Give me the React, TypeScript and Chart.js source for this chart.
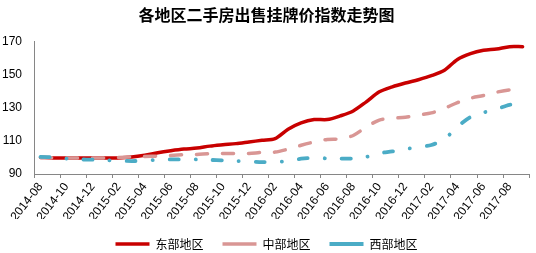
import React, { useEffect, useRef } from "react";
import { Chart, registerables } from "chart.js";

Chart.register(...registerables);

const title = "各地区二手房出售挂牌价指数走势图";

const months = [
  "2014-08", "2014-09", "2014-10", "2014-11", "2014-12", "2015-01", "2015-02", "2015-03",
  "2015-04", "2015-05", "2015-06", "2015-07", "2015-08", "2015-09", "2015-10", "2015-11",
  "2015-12", "2016-01", "2016-02", "2016-03", "2016-04", "2016-05", "2016-06", "2016-07",
  "2016-08", "2016-09", "2016-10", "2016-11", "2016-12", "2017-01", "2017-02", "2017-03",
  "2017-04", "2017-05", "2017-06", "2017-07", "2017-08", "2017-09",
];

const seriesNames = ["东部地区", "中部地区", "西部地区"];

const eastValues = [
  100, 99.7, 99.7, 99.6, 99.6, 99.7, 99.7, 100.2, 101.3, 102.8, 104, 105, 105.6, 106.8,
  107.6, 108.3, 109.3, 110.3, 111.3, 117, 120.8, 122.8, 122.8, 125, 128, 133.5, 139.5,
  142.5, 144.8, 146.8, 149.2, 152.5, 159, 162.5, 164.5, 165.3, 166.7, 166.7,
];

const centralValues = [
  100, 99.8, 99.7, 99.7, 99.7, 99.7, 100, 100.3, 100.6, 100.8, 101.2, 101.6, 101.8, 102.2,
  102.3, 102.3, 102.4, 103, 103.2, 105, 107.3, 109.3, 110.8, 111.2, 113.2, 118.3, 122.5,
  123.6, 124.2, 125.6, 126.8, 129.6, 133, 135.7, 137.3, 139.3, 140.7, 141,
];

const westValues = [
  100.3, 100, 99.3, 98.8, 98.6, 98.3, 98, 97.8, 98, 98.6, 98.8, 98.8, 98.8, 98.5, 98.2,
  97.8, 97.5, 97.2, 97.3, 97.8, 99.2, 99.8, 99.4, 99.3, 99.3, 100.3, 102.5, 103.6, 105,
  106.2, 107.5, 111, 118.5, 124.3, 127, 129, 131.7, 131.7,
];

const yMin = 90;
const yMax = 170;
const yStep = 20;

export default function App() {
  const ref = useRef<HTMLCanvasElement | null>(null);

  useEffect(() => {
    if (!ref.current) return;
    const axisColor = "#868686";
    const chart = new Chart(ref.current, {
      type: "line",
      data: {
        labels: months,
        datasets: [
          {
            label: seriesNames[0],
            data: eastValues,
            borderColor: "#C80000",
            backgroundColor: "#C80000",
            borderWidth: 3.5,
            borderCapStyle: "round",
            borderJoinStyle: "round",
            pointRadius: 0,
            tension: 0.3,
            order: 2,
          },
          {
            label: seriesNames[1],
            data: centralValues,
            borderColor: "#D99694",
            backgroundColor: "#D99694",
            borderWidth: 3.5,
            borderDash: [11, 15],
            borderCapStyle: "round",
            borderJoinStyle: "round",
            pointRadius: 0,
            tension: 0.3,
            order: 1,
          },
          {
            label: seriesNames[2],
            data: westValues,
            borderColor: "#4BACC6",
            backgroundColor: "#4BACC6",
            borderWidth: 3.8,
            borderDash: [9, 17, 0.1, 17],
            borderCapStyle: "round",
            borderJoinStyle: "round",
            pointRadius: 0,
            tension: 0.3,
            order: 0,
          },
        ],
      },
      options: {
        responsive: false,
        animation: false,
        devicePixelRatio: 1,
        layout: { padding: { left: 0, right: 3, top: 0, bottom: -7 } },
        plugins: {
          title: {
            display: true,
            text: title,
            color: "#000000",
            font: { family: "'Noto Sans CJK SC', sans-serif", size: 16, weight: "bold" },
            padding: { top: 5, bottom: 17 },
          },
          legend: {
            position: "bottom",
            labels: {
              usePointStyle: true,
              pointStyle: "line",
              pointStyleWidth: 34,
              padding: 19,
              color: "#000000",
              font: { family: "'Noto Sans CJK SC', sans-serif", size: 12 },
              sort: (a: any, b: any) => a.datasetIndex - b.datasetIndex,
            },
          },
          tooltip: { enabled: false },
        },
        scales: {
          x: {
            type: "category",
            offset: true,
            grid: {
              display: true,
              offset: true,
              drawOnChartArea: false,
              drawTicks: true,
              tickLength: 4,
              color: (ctx: any) =>
                ctx.index === undefined || ctx.index % 2 === 0 ? axisColor : "rgba(0,0,0,0)",
            },
            border: { display: true, color: axisColor, width: 1 },
            ticks: {
              autoSkip: false,
              maxRotation: 52,
              minRotation: 52,
              padding: 2,
              color: "#000000",
              font: { family: "'Liberation Sans', Arial, sans-serif", size: 12 },
              callback: (_v: any, i: number) => (i % 2 === 0 ? months[i] : ""),
            },
            afterFit: (scale: any) => {
              scale.height = 45;
            },
          },
          y: {
            min: yMin,
            max: yMax,
            grid: { display: false, drawTicks: false },
            border: { display: true, color: axisColor, width: 1 },
            ticks: {
              stepSize: yStep,
              padding: 12,
              color: "#000000",
              font: { family: "'Liberation Sans', Arial, sans-serif", size: 12 },
            },
            afterFit: (scale: any) => {
              scale.width = 34;
            },
          },
        },
      },
    });
    return () => chart.destroy();
  }, []);

  return (
    <div style={{ position: "absolute", left: 0, top: 0, width: 536, height: 253, background: "#fff" }}>
      <canvas ref={ref} width={536} height={253} style={{ display: "block" }} />
    </div>
  );
}
